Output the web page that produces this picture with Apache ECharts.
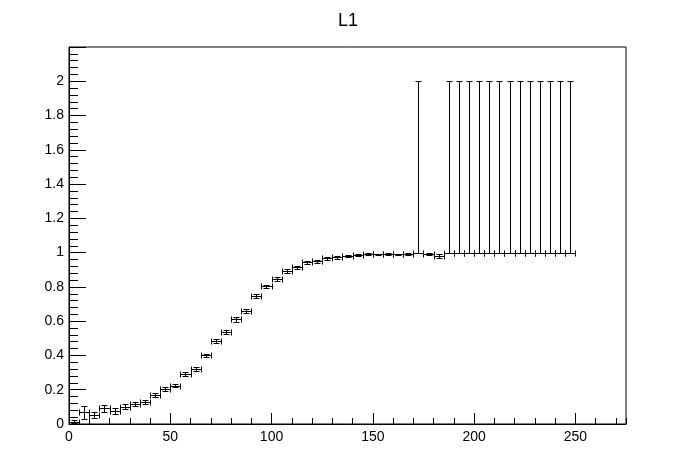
<!DOCTYPE html>
<html>
<head>
<meta charset="utf-8">
<script src="https://cdn.jsdelivr.net/npm/echarts@6/dist/echarts.min.js"></script>
<style>
html,body{margin:0;padding:0;background:#fff;}
#c{width:696px;height:472px;}
</style>
</head>
<body>
<div id="c"></div>
<script>
const titleText = "L1";
const binWidth = 5;
const binCenters = [2.5, 7.5, 12.5, 17.5, 22.5, 27.5, 32.5, 37.5, 42.5, 47.5,
  52.5, 57.5, 62.5, 67.5, 72.5, 77.5, 82.5, 87.5, 92.5, 97.5,
  102.5, 107.5, 112.5, 117.5, 122.5, 127.5, 132.5, 137.5, 142.5, 147.5,
  152.5, 157.5, 162.5, 167.5, 172.5, 177.5, 182.5, 187.5, 192.5, 197.5,
  202.5, 207.5, 212.5, 217.5, 222.5, 227.5, 232.5, 237.5, 242.5, 247.5];
const values = [0.013, 0.068, 0.052, 0.091, 0.078, 0.101, 0.117, 0.128, 0.169, 0.202,
  0.223, 0.292, 0.319, 0.400, 0.482, 0.535, 0.610, 0.657, 0.745, 0.803,
  0.847, 0.892, 0.914, 0.943, 0.949, 0.966, 0.972, 0.981, 0.985, 0.991,
  0.990, 0.991, 0.990, 0.991, 1.0, 0.993, 0.981, 1.0, 1.0, 1.0,
  1.0, 1.0, 1.0, 1.0, 1.0, 1.0, 1.0, 1.0, 1.0, 1.0];
const errLow = [0.010, 0.037, 0.019, 0.022, 0.017, 0.015, 0.013, 0.012, 0.011, 0.011,
  0.010, 0.011, 0.011, 0.011, 0.012, 0.012, 0.012, 0.012, 0.012, 0.011,
  0.011, 0.010, 0.010, 0.008, 0.008, 0.008, 0.007, 0.006, 0.005, 0.004,
  0.004, 0.004, 0.004, 0.004, 0, 0.004, 0.012, 0, 0, 0,
  0, 0, 0, 0, 0, 0, 0, 0, 0, 0];
const errHigh = [0.010, 0.037, 0.019, 0.022, 0.017, 0.015, 0.013, 0.012, 0.011, 0.011,
  0.010, 0.011, 0.011, 0.011, 0.012, 0.012, 0.012, 0.012, 0.012, 0.011,
  0.011, 0.010, 0.010, 0.008, 0.008, 0.008, 0.007, 0.006, 0.005, 0.004,
  0.004, 0.004, 0.004, 0.004, 1.0, 0.004, 0.012, 1.0, 1.0, 1.0,
  1.0, 1.0, 1.0, 1.0, 1.0, 1.0, 1.0, 1.0, 1.0, 1.0];

const data = binCenters.map((x, i) => [x, values[i], errLow[i], errHigh[i]]);

const chart = echarts.init(document.getElementById('c'), null, {renderer: 'canvas'});
const FONT = '"Liberation Sans", Arial, Helvetica, sans-serif';
const CAP = 3;
function px(v){ return Math.round(v) + 0.5; }

function renderItem(params, api) {
  const x = api.value(0), y = api.value(1), lo = api.value(2), hi = api.value(3);
  const c = api.coord([x, y]);
  const l = api.coord([x - binWidth / 2, y]);
  const r = api.coord([x + binWidth / 2, y]);
  const cy = px(c[1]), cx = px(c[0]);
  const lx = px(l[0]), rx = px(r[0]);
  const st = {stroke: '#000', lineWidth: 1, fill: null};
  const ch = [];
  const line = (x1, y1, x2, y2) => ch.push({type: 'line', shape: {x1, y1, x2, y2}, style: st});
  line(lx, cy, rx, cy);
  line(lx, cy - CAP, lx, cy + CAP);
  line(rx, cy - CAP, rx, cy + CAP);
  if (hi > 0) {
    const t = px(api.coord([x, y + hi])[1]);
    line(cx, cy, cx, t);
    line(cx - CAP, t, cx + CAP, t);
  }
  if (lo > 0) {
    const b = px(api.coord([x, y - lo])[1]);
    line(cx, cy, cx, b);
    line(cx - CAP, b, cx + CAP, b);
  }
  return {type: 'group', children: ch};
}

const axisLabelStyle = {color: '#000', fontFamily: FONT, fontSize: 14};

chart.setOption({
  animation: false,
  backgroundColor: '#fff',
  title: {
    text: titleText, left: 'center', top: 7,
    textStyle: {fontFamily: FONT, fontSize: 18, fontWeight: 'normal', color: '#000'}
  },
  grid: {left: 69, right: 70, top: 47, bottom: 48, show: true, borderColor: '#000', borderWidth: 1, backgroundColor: 'transparent'},
  xAxis: [{
    type: 'value', min: 0, max: 275, interval: 50,
    axisLine: {show: true, lineStyle: {color: '#000', width: 1}},
    axisTick: {show: true, inside: true, length: 11, lineStyle: {color: '#000'}},
    minorTick: {show: false},
    splitLine: {show: false},
    axisLabel: Object.assign({margin: 6, showMaxLabel: false}, axisLabelStyle)
  }, {
    type: 'value', min: 0, max: 275, interval: 10, position: 'bottom',
    axisLine: {show: false},
    axisTick: {show: true, inside: true, length: 6, lineStyle: {color: '#000'}},
    splitLine: {show: false},
    axisLabel: {show: false}
  }],
  yAxis: {
    type: 'value', min: 0, max: 2.2, interval: 0.2,
    axisLine: {show: true, lineStyle: {color: '#000', width: 1}},
    axisTick: {show: true, inside: true, length: 17, lineStyle: {color: '#000'}},
    minorTick: {show: true, splitNumber: 5, length: 9, lineStyle: {color: '#000'}},
    splitLine: {show: false},
    axisLabel: Object.assign({margin: 5, showMaxLabel: false}, axisLabelStyle)
  },
  series: [{
    type: 'custom',
    xAxisIndex: 0,
    renderItem: renderItem,
    data: data,
    encode: {x: 0, y: 1},
    clip: true
  }]
});
</script>
</body>
</html>
